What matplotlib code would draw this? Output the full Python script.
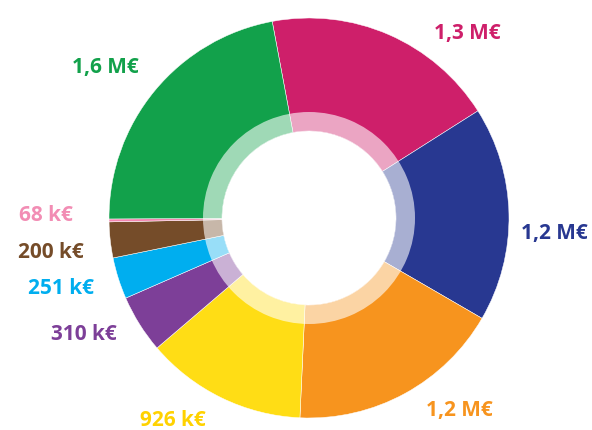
import matplotlib
matplotlib.use("Agg")
import matplotlib.pyplot as plt
from matplotlib.patches import Wedge

# Data (k€), order clockwise starting at the top
categories = ["magenta", "navy", "orange", "yellow", "purple", "lightblue", "brown", "pink", "green"]
values = [1310, 1200, 1200, 900, 325, 232, 200, 16, 1530]
labels = ["1,3 M€", "1,2 M€", "1,2 M€", "926 k€", "310 k€", "251 k€", "200 k€", "68 k€", "1,6 M€"]
colors = ["#CE1F6A", "#283891", "#F7941E", "#FFDD15", "#7D3F98", "#00AEEF", "#754C29", "#F386B0", "#12A14B"]
label_colors = ["#CE1F6A", "#283891", "#F7941E", "#FFD200", "#7D3F98", "#00AEEF", "#754C29", "#F28DB4", "#12A14B"]
# label centres in pixel coords (x, y from top)
label_pos = [(467.5, 34), (554, 234), (459.5, 410.5), (173.3, 420), (84, 334),
             (60.5, 289), (51, 253), (46, 215.5), (105, 68)]

W, H = 592, 430
fig = plt.figure(figsize=(W / 100, H / 100), dpi=100)
ax = fig.add_axes([0, 0, 1, 1])

cx, cy = 309, H - 218
R, r_hole, r_ring = 200, 87, 106

ax.pie(values, colors=colors, startangle=100.6, counterclock=False, radius=R,
       center=(cx, cy), wedgeprops=dict(width=R - r_hole, edgecolor="white", linewidth=0.35))
ax.add_patch(Wedge((cx, cy), r_ring, 0, 360, width=r_ring - r_hole,
                   facecolor="white", edgecolor="none", alpha=0.6))

for lab, col, (x, y) in zip(labels, label_colors, label_pos):
    ax.text(x, H - y, lab, color=col, fontsize=15, fontfamily="Open Sans",
            fontweight="bold", ha="center", va="center")

ax.set_xlim(0, W)
ax.set_ylim(0, H)
ax.set_aspect("auto")
ax.set_axis_off()
fig.savefig("out.png", dpi=100)
